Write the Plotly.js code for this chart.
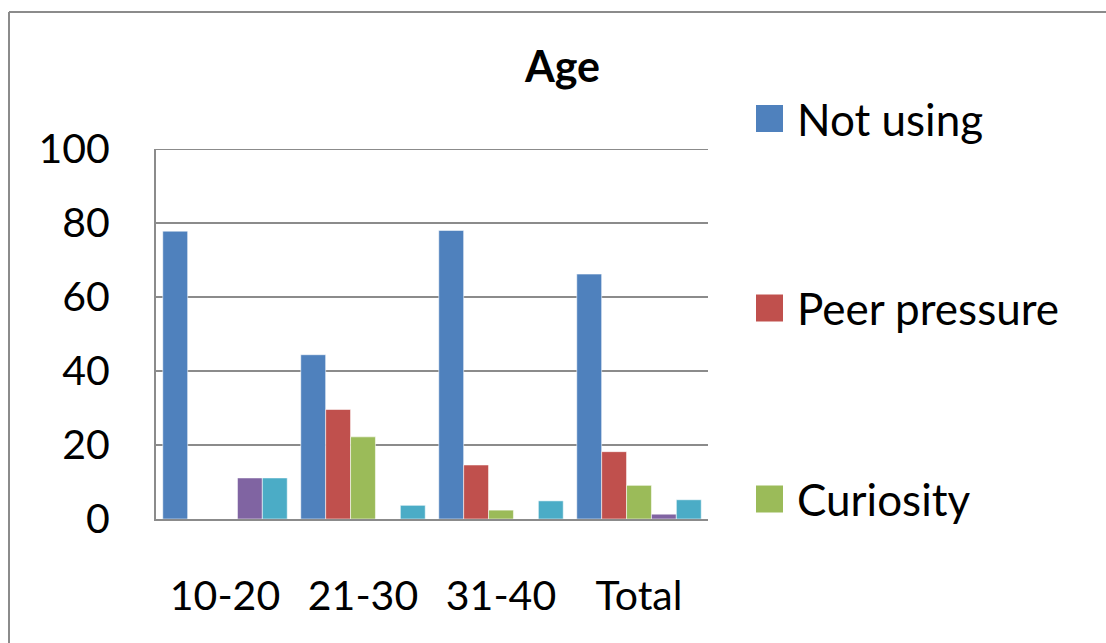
<!DOCTYPE html>
<html>
<head>
<meta charset="utf-8">
<script src="https://cdn.plot.ly/plotly-3.0.1.min.js"></script>
<style>
  html, body { margin: 0; padding: 0; background: #ffffff; }
  #chart { width: 1106px; height: 643px; }
</style>
</head>
<body>
<div id="chart"></div>
<script>
// Age groups on the x axis
const categories = ['10-20', '21-30', '31-40', 'Total'];

// Percentage of respondents per reason, one array per series
const notUsing     = [77.8, 44.4, 78.0, 66.2];
const peerPressure = [0, 29.6, 14.6, 18.2];
const curiosity    = [0, 22.2, 2.4, 9.1];
const otherReasons = [11.1, 0, 0, 1.3];
const noResponse   = [11.1, 3.7, 4.9, 5.2];

const seriesNames  = ['Not using', 'Peer pressure', 'Curiosity', 'Other reasons', 'No response'];
const seriesValues = [notUsing, peerPressure, curiosity, otherReasons, noResponse];
const seriesColors = ['#4F81BD', '#C0504D', '#9BBB59', '#8064A2', '#4BACC6'];

// Only the first three entries fit in the legend column
const legendSeries = [0, 1, 2];

const yTickValues = [0, 20, 40, 60, 80, 100];

// Plot-area geometry in pixels
const W = 1106, H = 643;
const plotLeft = 156, plotRight = 708, plotTop = 149, plotBottom = 519;
const px2x = px => (px - plotLeft) / (plotRight - plotLeft);
const py2y = py => (plotBottom - py) / (plotBottom - plotTop);

const FONT = 'Lato, "Open Sans", "DejaVu Sans", sans-serif';
const GRID = '#8b8b8b';

const traces = seriesNames.map((name, i) => ({
  type: 'bar',
  name: name,
  x: categories,
  y: seriesValues[i],
  marker: {
    color: seriesColors[i],
    line: { color: 'rgba(255,255,255,0.55)', width: 1 }
  },
  showlegend: false,
  hoverinfo: 'x+y+name'
}));

// Legend column: large square swatches with labels
const legendRowsY = [118.5, 308, 499];
const swatchLeft = 756, swatchSize = 27, labelLeft = 795;

const shapes = [];
const annotations = [];

legendSeries.forEach((s, k) => {
  const cy = legendRowsY[k];
  shapes.push({
    type: 'rect', xref: 'paper', yref: 'paper',
    x0: px2x(swatchLeft), x1: px2x(swatchLeft + swatchSize),
    y0: py2y(cy + swatchSize / 2), y1: py2y(cy - swatchSize / 2),
    fillcolor: seriesColors[s], line: { width: 0 }
  });
  annotations.push({
    xref: 'paper', yref: 'paper',
    x: px2x(labelLeft), y: py2y(cy),
    xanchor: 'left', yanchor: 'middle',
    text: seriesNames[s], showarrow: false,
    font: { family: FONT, size: 44, color: '#000000' }
  });
});

// Gridline at the top of the value range (the axis omits the edge line)
const yMax = yTickValues[yTickValues.length - 1];
shapes.push({
  type: 'line', xref: 'paper', yref: 'y',
  x0: 0, x1: 1, y0: yMax, y1: yMax,
  line: { color: GRID, width: 2 }
});

// Outer chart frame: top and left edges
shapes.push({
  type: 'line', xref: 'paper', yref: 'paper',
  x0: px2x(9), x1: px2x(W + 20), y0: py2y(12), y1: py2y(12),
  line: { color: GRID, width: 2 }
});
shapes.push({
  type: 'line', xref: 'paper', yref: 'paper',
  x0: px2x(9), x1: px2x(9), y0: py2y(12), y1: py2y(H + 20),
  line: { color: GRID, width: 2 }
});

const layout = {
  width: W,
  height: H,
  paper_bgcolor: '#ffffff',
  plot_bgcolor: '#ffffff',
  margin: { l: plotLeft, r: W - plotRight, t: plotTop, b: H - plotBottom, pad: 0 },
  barmode: 'group',
  bargap: 0.098,
  bargroupgap: 0,
  showlegend: false,
  font: { family: FONT, size: 41, color: '#000000' },
  title: {
    text: '<b>Age</b>',
    font: { family: FONT, size: 43, color: '#000000' },
    xref: 'container', yref: 'container',
    x: 562.5 / W, xanchor: 'center',
    y: 1 - 67 / H, yanchor: 'middle'
  },
  xaxis: {
    type: 'category',
    showline: true, linecolor: GRID, linewidth: 2,
    showgrid: false, zeroline: false,
    ticks: '',
    ticklabelstandoff: 40,
    tickfont: { family: FONT, size: 41, color: '#000000' }
  },
  yaxis: {
    range: [0, yMax],
    tickvals: yTickValues,
    ticktext: yTickValues.map(String),
    showline: true, linecolor: GRID, linewidth: 2,
    showgrid: true, gridcolor: GRID, gridwidth: 2,
    zeroline: false,
    ticks: '',
    ticklabelstandoff: 36,
    tickfont: { family: FONT, size: 41, color: '#000000' }
  },
  shapes: shapes,
  annotations: annotations
};

Plotly.newPlot('chart', traces, layout, { displayModeBar: false, responsive: false });
</script>
</body>
</html>
